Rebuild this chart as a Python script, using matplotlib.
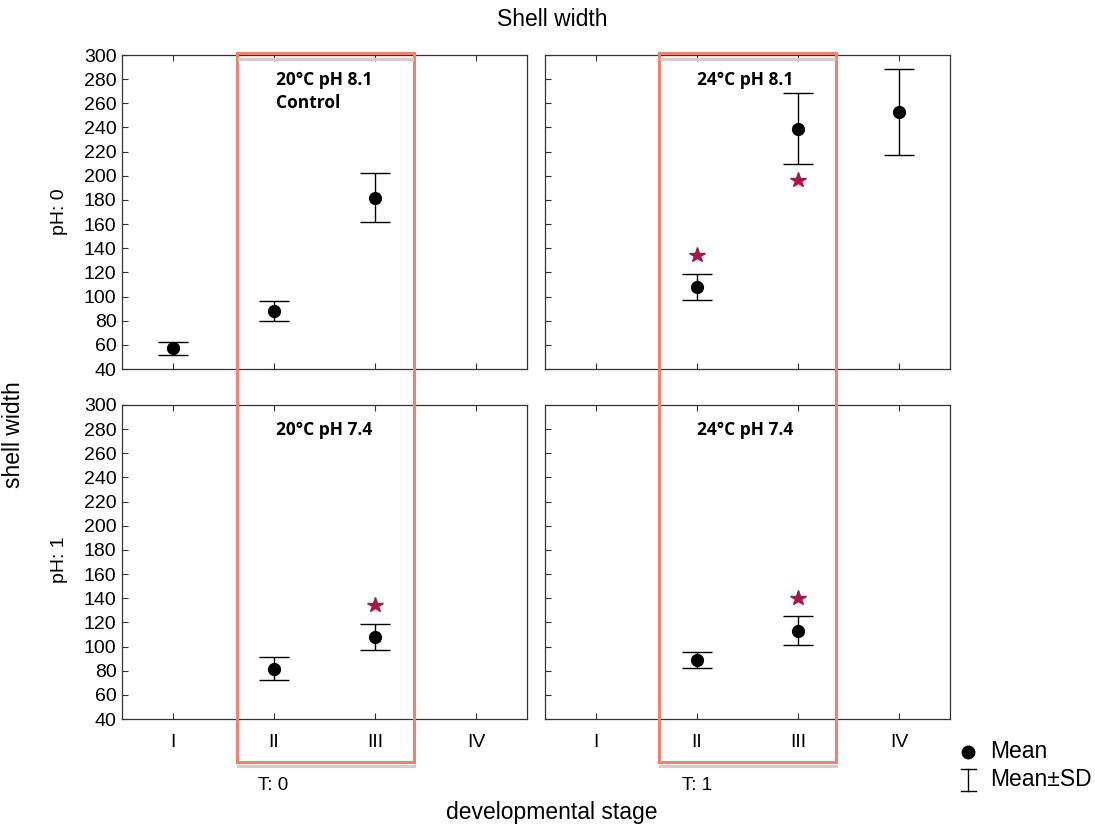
import matplotlib.pyplot as plt
from matplotlib.patches import Rectangle
from matplotlib.lines import Line2D

plt.rcParams['font.family'] = ['Liberation Sans', 'DejaVu Sans']

stages = ['I', 'II', 'III', 'IV']
y_ticks = list(range(40, 301, 20))

# per panel: stage index (1-based), mean, sd
t0_ph0_x = [1, 2, 3]
t0_ph0_mean = [57, 88, 182]
t0_ph0_sd = [5, 8, 20.5]

t1_ph0_x = [2, 3, 4]
t1_ph0_mean = [108, 239, 252.5]
t1_ph0_sd = [11, 29.5, 35.5]
t1_ph0_star_x = [2, 3]
t1_ph0_star_y = [134.5, 196.5]

t0_ph1_x = [2, 3]
t0_ph1_mean = [81.5, 108]
t0_ph1_sd = [9.5, 11]
t0_ph1_star_x = [3]
t0_ph1_star_y = [134]

t1_ph1_x = [2, 3]
t1_ph1_mean = [89, 113]
t1_ph1_sd = [6.5, 12]
t1_ph1_star_x = [3]
t1_ph1_star_y = [140]

panels = [
    (0, 0, t0_ph0_x, t0_ph0_mean, t0_ph0_sd, [], [], '20°C pH 8.1\nControl'),
    (0, 1, t1_ph0_x, t1_ph0_mean, t1_ph0_sd, t1_ph0_star_x, t1_ph0_star_y, '24°C pH 8.1'),
    (1, 0, t0_ph1_x, t0_ph1_mean, t0_ph1_sd, t0_ph1_star_x, t0_ph1_star_y, '20°C pH 7.4'),
    (1, 1, t1_ph1_x, t1_ph1_mean, t1_ph1_sd, t1_ph1_star_x, t1_ph1_star_y, '24°C pH 7.4'),
]

W, H = 1095, 825
fig = plt.figure(figsize=(W / 100, H / 100), dpi=100)

def fx(px):
    return px / W

def fy(py):
    return 1 - py / H

lefts = [122, 545]
tops = [55, 405]
aw, ah = 405, 314

star_color = '#A8174A'
box_color = '#F77F6E'
spine_color = '#333333'

for row, col, xs, means, sds, sx, sy, label in panels:
    ax = fig.add_axes([fx(lefts[col]), fy(tops[row] + ah), aw / W, ah / H])
    ax.errorbar(xs, means, yerr=sds, fmt='o', color='black', ms=8.5,
                ecolor='black', elinewidth=1, capsize=11, capthick=1)
    if sx:
        ax.plot(sx, sy, '*', color=star_color, ms=11.5, mec=star_color)
    ax.set_xlim(0.5, 4.5)
    ax.set_ylim(40, 300)
    ax.set_yticks(y_ticks)
    ax.set_xticks([1, 2, 3, 4])
    if row == 1:
        ax.set_xticklabels(stages)
    else:
        ax.set_xticklabels([])
    if col == 1:
        ax.set_yticklabels([])
    ax.tick_params(direction='in', length=4, width=0.8, labelsize=14,
                   top=True, right=False, pad=4, color=spine_color)
    ax.tick_params(axis='x', pad=11)
    for s in ax.spines.values():
        s.set_linewidth(0.9)
        s.set_color(spine_color)
    ax.text(0.38 if col == 0 else 0.375, 0.95, label, transform=ax.transAxes,
            ha='left', va='top', fontsize=12.5, fontweight='bold',
            family=['Open Sans', 'DejaVu Sans'], linespacing=1.35)

# highlight boxes around stages II-III
for x0 in [237, 659]:
    fig.add_artist(Line2D([fx(x0 + 2), fx(x0 + 175)], [fy(58.5), fy(58.5)],
                          color='#CFCFCF', lw=2.2))
    fig.add_artist(Line2D([fx(x0 + 1), fx(x0 + 177)], [fy(766), fy(766)],
                          color='#CFCFCF', lw=2.2))
    fig.add_artist(Rectangle((fx(x0), fy(762)), 177 / W, 709 / H,
                             fill=False, ec=box_color, lw=2.2))

fig.text(fx(552), fy(20), 'Shell width', ha='center', va='center', fontsize=16.5)
fig.text(fx(552), fy(812), 'developmental stage', ha='center', va='center', fontsize=16.5)
fig.text(fx(14), fy(435), 'shell width', ha='center', va='center', rotation=90, fontsize=16.5)
fig.text(fx(60), fy(212), 'pH: 0', ha='center', va='center', rotation=90, fontsize=14)
fig.text(fx(60), fy(560), 'pH: 1', ha='center', va='center', rotation=90, fontsize=14)
fig.text(fx(273), fy(785), 'T: 0', ha='center', va='center', fontsize=13.5)
fig.text(fx(697), fy(785), 'T: 1', ha='center', va='center', fontsize=13.5)

# legend
fig.add_artist(Line2D([fx(968)], [fy(752)], marker='o', color='black', ms=9))
fig.add_artist(Line2D([fx(968), fx(968)], [fy(769), fy(791)], color='black', lw=1))
fig.add_artist(Line2D([fx(961), fx(976)], [fy(769), fy(769)], color='black', lw=1))
fig.add_artist(Line2D([fx(961), fx(976)], [fy(791), fy(791)], color='black', lw=1))
fig.text(fx(990), fy(752), 'Mean', ha='left', va='center', fontsize=16.5)
fig.text(fx(990), fy(780), 'Mean±SD', ha='left', va='center', fontsize=16.5)

fig.savefig('out.png', dpi=100)
